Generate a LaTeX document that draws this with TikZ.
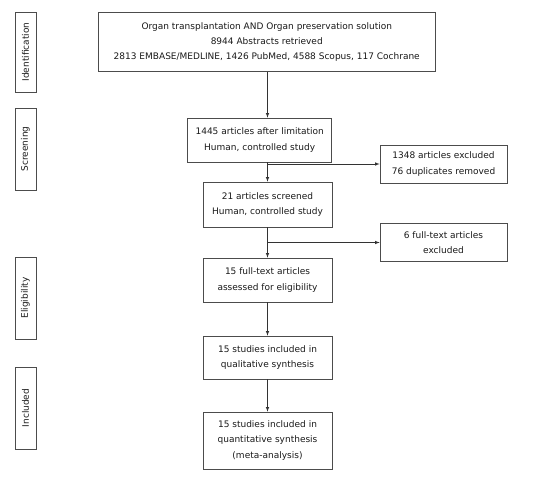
\documentclass[tikz,border=0pt]{standalone}
\usepackage{fontspec}
\setmainfont{DejaVu Sans}
\usetikzlibrary{arrows, positioning}

\begin{document}
\begin{tikzpicture}[>=latex, x=1pt, y=-1pt,
    box/.style={draw=black!70, line width=0.7pt, align=center, inner sep=0pt,
      font=\fontsize{9}{15.3}\selectfont, text=black!90},
    phase/.style={draw=black!70, line width=0.7pt, minimum width=21pt, inner sep=0pt,
      font=\fontsize{9}{10}\selectfont, text=black!90},
    link/.style={->, draw=black!80, line width=0.6pt}]
\useasboundingbox (0,0) rectangle (549,484);

% phase labels on the left
\node[phase, minimum height=80pt] (ident) at (25.5,52) {\rotatebox{90}{Identification}};
\node[phase, minimum height=82pt] (screen) at (25.5,149) {\rotatebox{90}{Screening}};
\node[phase, minimum height=82pt] (elig) at (25.5,298) {\rotatebox{90}{Eligibility}};
\node[phase, minimum height=82pt] (incl) at (25.5,408) {\rotatebox{90}{Included}};

% main flow
\node[box, minimum width=336.5pt, minimum height=59pt] (search) at (266.75,42)
  {Organ transplantation AND Organ preservation solution\\8944 Abstracts retrieved\\2813 EMBASE/MEDLINE, 1426 PubMed, 4588 Scopus, 117 Cochrane};
\node[box, minimum width=144pt, minimum height=44pt] (limit) at (259.7,140)
  {1445 articles after limitation\\Human, controlled study};
\node[box, minimum width=129pt, minimum height=45pt] (screened) at (267.5,204.5)
  {21 articles screened\\Human, controlled study};
\node[box, minimum width=129pt, minimum height=44pt] (fulltext) at (267.5,280)
  {15 full-text articles\\assessed for eligibility};
\node[box, minimum width=129pt, minimum height=43pt] (qual) at (267.5,357.5)
  {15 studies included in\\qualitative synthesis};
\node[box, minimum width=129pt, minimum height=57pt] (quant) at (267.5,440.5)
  {15 studies included in\\quantitative synthesis\\(meta-analysis)};

% excluded records
\node[box, minimum width=127pt, minimum height=38pt] (excl1) at (443.5,164)
  {1348 articles excluded\\76 duplicates removed};
\node[box, minimum width=127pt, minimum height=38pt] (excl2) at (443.5,242.5)
  {6 full-text articles\\excluded};

% arrows
\draw[link] (search.south -| screened) -- (limit.north -| screened);
\draw[link] (limit.south -| screened) -- (screened.north);
\draw[link] (screened.south) -- (fulltext.north);
\draw[link] (fulltext.south) -- (qual.north);
\draw[link] (qual.south) -- (quant.north);

\coordinate (split1) at (excl1.west -| screened);
\coordinate (split2) at (excl2.west -| screened);
\draw[link] (split1) -- (excl1.west);
\draw[link] (split2) -- (excl2.west);
\end{tikzpicture}
\end{document}
